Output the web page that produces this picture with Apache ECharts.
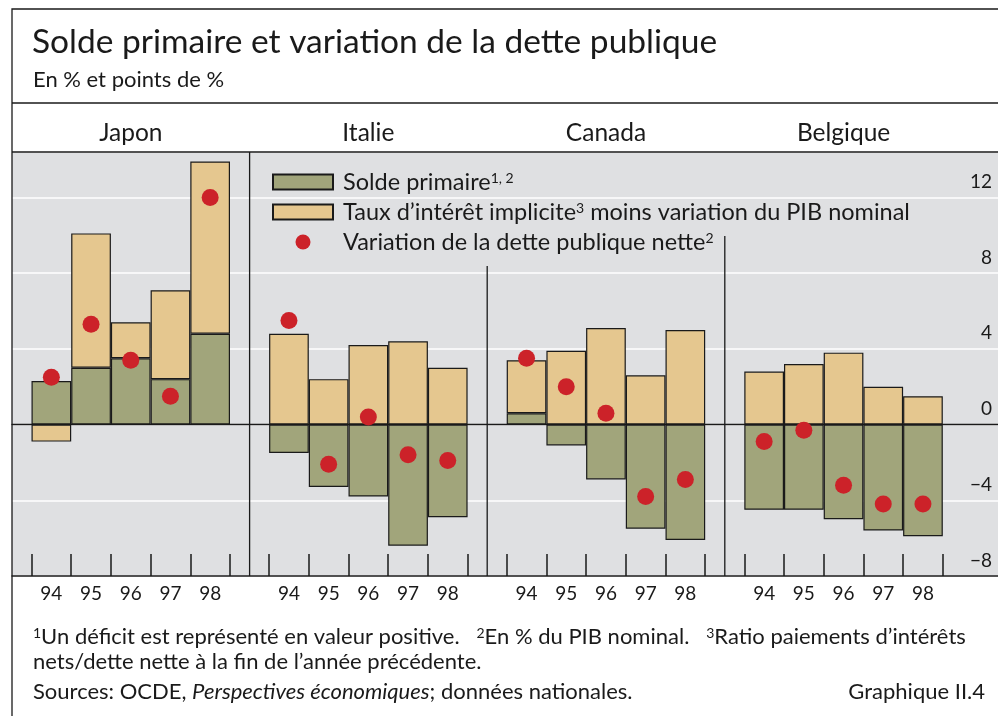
<!DOCTYPE html>
<html>
<head>
<meta charset="utf-8">
<script src="https://cdn.jsdelivr.net/npm/echarts@6/dist/echarts.min.js"></script>
<style>
  html, body { margin: 0; padding: 0; background: #fff; }
  #chart { width: 998px; height: 716px; }
</style>
</head>
<body>
<div id="chart"></div>
<script>
// données
const years = ['94', '95', '96', '97', '98'];
const countries = ['Japon', 'Italie', 'Canada', 'Belgique'];
const yTicks = [-8, -4, 0, 4, 8, 12];

// Solde primaire (un déficit est positif)
const soldeJapon = [2.3, 3.0, 3.5, 2.4, 4.8];
const soldeItalie = [-1.5, -3.3, -3.8, -6.4, -4.9];
const soldeCanada = [0.6, -1.1, -2.9, -5.5, -6.1];
const soldeBelgique = [-4.5, -4.5, -5.0, -5.6, -5.9];

// Taux d'intérêt implicite moins variation du PIB nominal
const tauxJapon = [-0.9, 7.1, 1.9, 4.7, 9.1];
const tauxItalie = [4.8, 2.4, 4.2, 4.4, 3.0];
const tauxCanada = [2.8, 3.9, 5.1, 2.6, 5.0];
const tauxBelgique = [2.8, 3.2, 3.8, 2.0, 1.5];

// Variation de la dette publique nette
const detteJapon = [2.5, 5.3, 3.4, 1.5, 12.0];
const detteItalie = [5.5, -2.1, 0.4, -1.6, -1.9];
const detteCanada = [3.5, 2.0, 0.6, -3.8, -2.9];
const detteBelgique = [-0.9, -0.3, -3.2, -4.2, -4.2];

const solde = [soldeJapon, soldeItalie, soldeCanada, soldeBelgique];
const taux = [tauxJapon, tauxItalie, tauxCanada, tauxBelgique];
const dette = [detteJapon, detteItalie, detteCanada, detteBelgique];

const nameSolde = 'Solde primaire';
const nameTaux = 'Taux d’intérêt implicite moins variation du PIB nominal';
const nameDette = 'Variation de la dette publique nette';

const FONT = 'Lato';
const GREEN = '#a1a57b';
const TAN = '#e5c78f';
const RED = '#cc2229';
const BG = '#dfe0e2';
const INK = '#1a1a1a';

const plotTop = 152, plotBottom = 576;
const yMin = -8, yMax = 14.4;
const panelLeft = 12, panelW = 237.6;
const barPad = 19.5, barZone = 198.5;

const chart = echarts.init(document.getElementById('chart'));

const grids = [], xAxes = [], yAxes = [], series = [];

countries.forEach((c, i) => {
  grids.push({
    left: panelLeft + i * panelW + barPad,
    width: barZone,
    top: plotTop,
    height: plotBottom - plotTop
  });
  xAxes.push({
    gridIndex: i,
    type: 'category',
    data: years,
    boundaryGap: true,
    axisLine: { show: false, onZero: false },
    axisTick: { show: true, inside: true, length: 22, lineStyle: { color: INK, width: 1.5 } },
    axisLabel: { margin: 8, fontFamily: FONT, fontSize: 19, color: INK },
    splitLine: { show: false }
  });
  yAxes.push({ gridIndex: i, type: 'value', min: yMin, max: yMax, show: false });

  series.push({
    name: nameSolde, type: 'bar', xAxisIndex: i, yAxisIndex: i, stack: 'p' + i,
    barWidth: '100%', data: solde[i],
    itemStyle: { color: GREEN, borderColor: INK, borderWidth: 1.2 }
  });
  series.push({
    name: nameTaux, type: 'bar', xAxisIndex: i, yAxisIndex: i, stack: 'p' + i,
    barWidth: '100%', data: taux[i],
    itemStyle: { color: TAN, borderColor: INK, borderWidth: 1.2 }
  });
  series.push({
    name: nameDette, type: 'scatter', xAxisIndex: i, yAxisIndex: i,
    symbolSize: 17, data: dette[i], z: 5,
    itemStyle: { color: RED, opacity: 1 }
  });
});

// grille de fond : fond gris, lignes blanches, axe de droite, ligne du zéro
grids.push({
  left: panelLeft, right: 0, top: plotTop, height: plotBottom - plotTop,
  show: true, backgroundColor: BG, borderWidth: 0
});
xAxes.push({
  gridIndex: 4, type: 'value', min: 0, max: 1, position: 'bottom',
  axisLine: { show: true, onZero: false, lineStyle: { color: INK, width: 1.5 } },
  axisTick: { show: false }, axisLabel: { show: false }, splitLine: { show: false }
});
xAxes.push({
  gridIndex: 4, type: 'value', min: 0, max: 1, position: 'top',
  axisLine: { show: true, onZero: true, lineStyle: { color: INK, width: 1.3 } },
  axisTick: { show: false }, axisLabel: { show: false }, splitLine: { show: false }
});
yAxes.push({
  gridIndex: 4, type: 'value', min: yMin, max: yMax, interval: 4, position: 'right',
  axisLine: { show: false }, axisTick: { show: false },
  splitLine: { show: true, lineStyle: { color: '#ffffff', width: 1.5 } },
  axisLabel: {
    inside: true, margin: 6, showMaxLabel: false,
    fontFamily: FONT, fontSize: 19, color: INK,
    verticalAlign: 'bottom', padding: [0, 0, 6, 0],
    formatter: v => yTicks.indexOf(v) < 0 ? '' : (v < 0 ? '−' + Math.abs(v) : String(v))
  }
});

const legendText = {};
legendText[nameSolde] = 'Solde primaire{sup|1, 2}';
legendText[nameTaux] = 'Taux d’intérêt implicite{sup|3} moins variation du PIB nominal';
legendText[nameDette] = 'Variation de la dette publique nette{sup|2}';

const graphic = [];
function line(x1, y1, x2, y2, w) {
  graphic.push({ type: 'line', z: 50, silent: true,
    shape: { x1, y1, x2, y2 }, style: { stroke: INK, lineWidth: w || 1.3 } });
}
function text(x, y, t, size, align, rich) {
  graphic.push({ type: 'text', z: 50, x, y, silent: true,
    style: { text: t, fontFamily: FONT, fontSize: size, fill: INK,
      textAlign: align || 'left', textVerticalAlign: 'middle', rich: rich || {} } });
}

// cadre
graphic.push({ type: 'rect', z: 50, silent: true,
  shape: { x: 12, y: 9, width: 1000, height: 720 },
  style: { fill: 'none', stroke: INK, lineWidth: 1.3 } });
line(12, 103, 998, 103);
line(12, plotTop, 998, plotTop);
line(panelLeft + panelW, plotTop, panelLeft + panelW, plotBottom);
line(panelLeft + 2 * panelW, 266, panelLeft + 2 * panelW, plotBottom);
line(panelLeft + 3 * panelW, 236, panelLeft + 3 * panelW, plotBottom);

text(32, 42, 'Solde primaire et variation de la dette publique', 33.5);
text(33, 80, 'En % et points de %', 22);
countries.forEach((c, i) => text(panelLeft + (i + 0.5) * panelW, 133, c, 24.5, 'center'));

const FN = 22;
const supStyle = { s: { fontSize: 14, verticalAlign: 'top', fontFamily: FONT, fill: INK },
  i: { fontStyle: 'italic', fontSize: FN, fontFamily: FONT, fill: INK } };
text(33, 637, '{s|1}Un déficit est représenté en valeur positive.   {s|2}En % du PIB nominal.   {s|3}Ratio paiements d’intérêts', FN, 'left', supStyle);
text(33, 662, 'nets/dette nette à la fin de l’année précédente.', FN);
text(33, 692, 'Sources: OCDE, {i|Perspectives économiques}; données nationales.', FN, 'left', supStyle);
text(985, 692, 'Graphique II.4', FN, 'right');

chart.setOption({
  animation: false,
  backgroundColor: '#ffffff',
  grid: grids,
  xAxis: xAxes,
  yAxis: yAxes,
  series: series,
  legend: {
    orient: 'vertical', left: 272, top: 170, padding: 0,
    itemWidth: 60, itemHeight: 15, itemGap: 6, selectedMode: false,
    data: [
      { name: nameSolde, icon: 'rect' },
      { name: nameTaux, icon: 'rect' },
      { name: nameDette, icon: 'circle' }
    ],
    formatter: n => legendText[n],
    textStyle: {
      fontFamily: FONT, fontSize: 23.5, color: INK, lineHeight: 22, padding: [0, 0, 0, 5],
      rich: { sup: { fontSize: 14, fontFamily: FONT, color: INK, verticalAlign: 'top', lineHeight: 14 } }
    }
  },
  graphic: graphic
});
</script>
</body>
</html>
